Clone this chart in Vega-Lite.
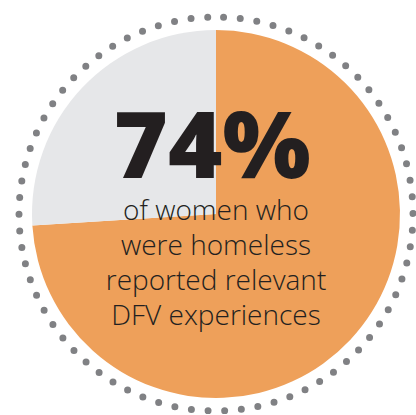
{
  "$schema": "https://vega.github.io/schema/vega-lite/v6.json",
  "width": 400,
  "height": 400,
  "padding": {"left": 16, "top": 14, "right": 0, "bottom": 0},
  "autosize": "none",
  "background": "white",
  "config": {"view": {"stroke": null}},
  "resolve": {"scale": {"theta": "independent"}},
  "layer": [
    {
      "data": {"values": [{"ring": 1}]},
      "mark": {
        "type": "arc",
        "radius": 197,
        "filled": false,
        "stroke": "#808184",
        "strokeWidth": 7,
        "strokeCap": "round",
        "strokeDash": [0, 16.73],
        "strokeDashOffset": 8.37
      },
      "encoding": {"theta": {"field": "ring", "type": "quantitative"}}
    },
    {
      "data": {
        "values": [
          {"group": "Relevant DFV experiences", "share": 74, "rank": 1},
          {"group": "Other", "share": 26, "rank": 2}
        ]
      },
      "mark": {"type": "arc", "radius": 184},
      "encoding": {
        "theta": {"field": "share", "type": "quantitative", "stack": true},
        "order": {"field": "rank", "type": "quantitative"},
        "color": {
          "field": "group",
          "type": "nominal",
          "scale": {
            "domain": ["Relevant DFV experiences", "Other"],
            "range": ["#EEA05A", "#E6E7E9"]
          },
          "legend": null
        }
      }
    },
    {
      "data": {
        "values": [
          {"kind": "headline", "label": "74%"},
          {"kind": "body", "label": "of women who\nwere homeless\nreported relevant\nDFV experiences"}
        ]
      },
      "layer": [
        {
          "transform": [{"filter": "datum.kind === 'headline'"}],
          "mark": {
            "type": "text",
            "align": "center",
            "baseline": "alphabetic",
            "font": "Open Sans",
            "fontWeight": 800,
            "fontSize": 93,
            "letterSpacing": -8,
            "color": "#231F20",
            "dx": -4,
            "dy": -36
          },
          "encoding": {"text": {"field": "label"}}
        },
        {
          "transform": [{"filter": "datum.kind === 'body'"}],
          "mark": {
            "type": "text",
            "align": "center",
            "baseline": "alphabetic",
            "font": "Open Sans",
            "fontWeight": 300,
            "fontSize": 28,
            "lineHeight": 35,
            "lineBreak": "\n",
            "color": "#231F20",
            "dy": 6
          },
          "encoding": {"text": {"field": "label"}}
        }
      ]
    }
  ]
}
